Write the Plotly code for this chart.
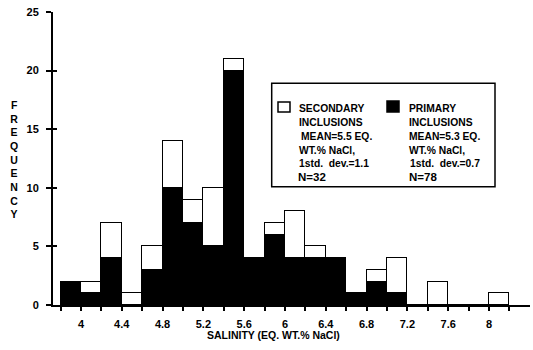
import plotly.graph_objects as go

# ---- data ----
bin_start = [3.8, 4.0, 4.2, 4.4, 4.6, 4.8, 5.0, 5.2, 5.4, 5.6, 5.8,
             6.0, 6.2, 6.4, 6.6, 6.8, 7.0, 7.2, 7.4, 7.6, 7.8, 8.0]
primary = [2, 1, 4, 0, 3, 10, 7, 5, 20, 4, 6,
           4, 4, 4, 1, 2, 1, 0, 0, 0, 0, 0]
secondary = [0, 1, 3, 1, 2, 4, 2, 5, 1, 0, 1,
             4, 1, 0, 0, 1, 3, 0, 2, 0, 0, 1]
bin_width = 0.2
x_tickvals = [3.8, 4.0, 4.2, 4.4, 4.6, 4.8, 5.0, 5.2, 5.4, 5.6, 5.8, 6.0,
              6.2, 6.4, 6.6, 6.8, 7.0, 7.2, 7.4, 7.6, 7.8, 8.0, 8.2]
x_ticktext = ["", "4", "", "4.4", "", "4.8", "", "5.2", "", "5.6", "", "6",
              "", "6.4", "", "6.8", "", "7.2", "", "7.6", "", "8", ""]
y_tickvals = [0, 5, 10, 15, 20, 25]
x_title = "SALINITY (EQ. WT.% NaCl)"
y_title = "FREQUENCY"
sec_lines = ["SECONDARY", "INCLUSIONS", "MEAN=5.5 EQ.", "WT.% NaCl,",
             "1std.\u00a0\u00a0dev.=1.1", "N=32"]
pri_lines = ["PRIMARY", "INCLUSIONS", "MEAN=5.3 EQ.", "WT.% NaCl,",
             "1std.\u00a0\u00a0dev.=0.7", "N=78"]

# ---- layout geometry (pixels) ----
W, H = 533, 350
L, R, T, B = 53, 3, 12, 45
PW, PH = W - L - R, H - T - B

def px(xp):
    return (xp - L) / PW

def py(yp):
    return (H - B - yp) / PH

FONT = "Liberation Sans"

fig = go.Figure()
fig.add_trace(go.Bar(x=bin_start, y=primary, width=bin_width, offset=0,
                     marker=dict(color="black", line=dict(color="black", width=1.5)),
                     showlegend=False, hoverinfo="skip"))
fig.add_trace(go.Bar(x=bin_start, y=secondary, width=bin_width, offset=0,
                     marker=dict(color="white", line=dict(color="black", width=1.5)),
                     showlegend=False, hoverinfo="skip"))
# invisible trace to hold the inner-tick overlay axis
fig.add_trace(go.Scatter(x=[4], y=[0], xaxis="x", yaxis="y2", mode="markers",
                         marker=dict(opacity=0), showlegend=False, hoverinfo="skip"))

fig.update_layout(
    width=W, height=H,
    margin=dict(l=L, r=R, t=T, b=B),
    paper_bgcolor="white", plot_bgcolor="white",
    barmode="stack", bargap=0,
    font=dict(family=FONT, color="black"),
    xaxis=dict(range=[3.726, 8.402], tickvals=x_tickvals, ticktext=x_ticktext,
               ticks="outside", ticklen=4, tickwidth=1.5, tickcolor="black",
               showline=True, linecolor="black", linewidth=2,
               showgrid=False, zeroline=False,
               tickfont=dict(size=11, family=FONT, weight="bold"),
               ticklabelstandoff=4),
    yaxis=dict(range=[0, 25], tickvals=y_tickvals,
               ticks="outside", ticklen=5, tickwidth=1.5, tickcolor="black",
               showline=True, linecolor="black", linewidth=2,
               showgrid=False, zeroline=False,
               tickfont=dict(size=11, family=FONT, weight="bold"),
               ticklabelstandoff=5),
    yaxis2=dict(range=[0, 25], overlaying="y", side="left", tickvals=y_tickvals,
                ticks="inside", ticklen=4, tickwidth=1.5, tickcolor="black",
                showticklabels=False, showline=False, showgrid=False, zeroline=False),
)

shapes = []
# legend box
shapes.append(dict(type="rect", xref="paper", yref="paper",
                   x0=px(271.7), x1=px(495), y0=py(186.7), y1=py(83.3),
                   line=dict(color="black", width=1.5), fillcolor="white", layer="above"))
shapes.append(dict(type="rect", xref="paper", yref="paper",
                   x0=px(278), x1=px(290), y0=py(112), y1=py(102),
                   line=dict(color="black", width=1.5), fillcolor="white", layer="above"))
shapes.append(dict(type="rect", xref="paper", yref="paper",
                   x0=px(387), x1=px(399), y0=py(112), y1=py(101),
                   line=dict(color="black", width=1.5), fillcolor="black", layer="above"))
fig.update_layout(shapes=shapes)

ann = []
line_y = [108.3, 123.0, 136.5, 150.0, 163.0, 177.0]
sec_x = [297, 297, 299, 297, 297, 296]
pri_x = [407, 407, 407, 407, 408, 407]
for i, (s, p) in enumerate(zip(sec_lines, pri_lines)):
    size = 11.5 if i == len(sec_lines) - 1 else 10.3
    for txt, xx in ((s, sec_x[i]), (p, pri_x[i])):
        ann.append(dict(text=txt, xref="paper", yref="paper",
                        x=px(xx), y=py(line_y[i]), xanchor="left", yanchor="middle",
                        showarrow=False,
                        font=dict(size=size, family=FONT, weight="bold")))
ann.append(dict(text=x_title, xref="paper", yref="paper", x=px(273), y=py(335),
                xanchor="center", yanchor="middle", showarrow=False,
                font=dict(size=10.5, family=FONT, weight="bold")))
ann.append(dict(text="<br>".join(list(y_title)), xref="paper", yref="paper",
                x=px(14), y=py(159), xanchor="center", yanchor="middle",
                showarrow=False,
                font=dict(size=10.5, family=FONT, weight="bold")))
fig.update_layout(annotations=ann)

fig.write_html("out.html")
